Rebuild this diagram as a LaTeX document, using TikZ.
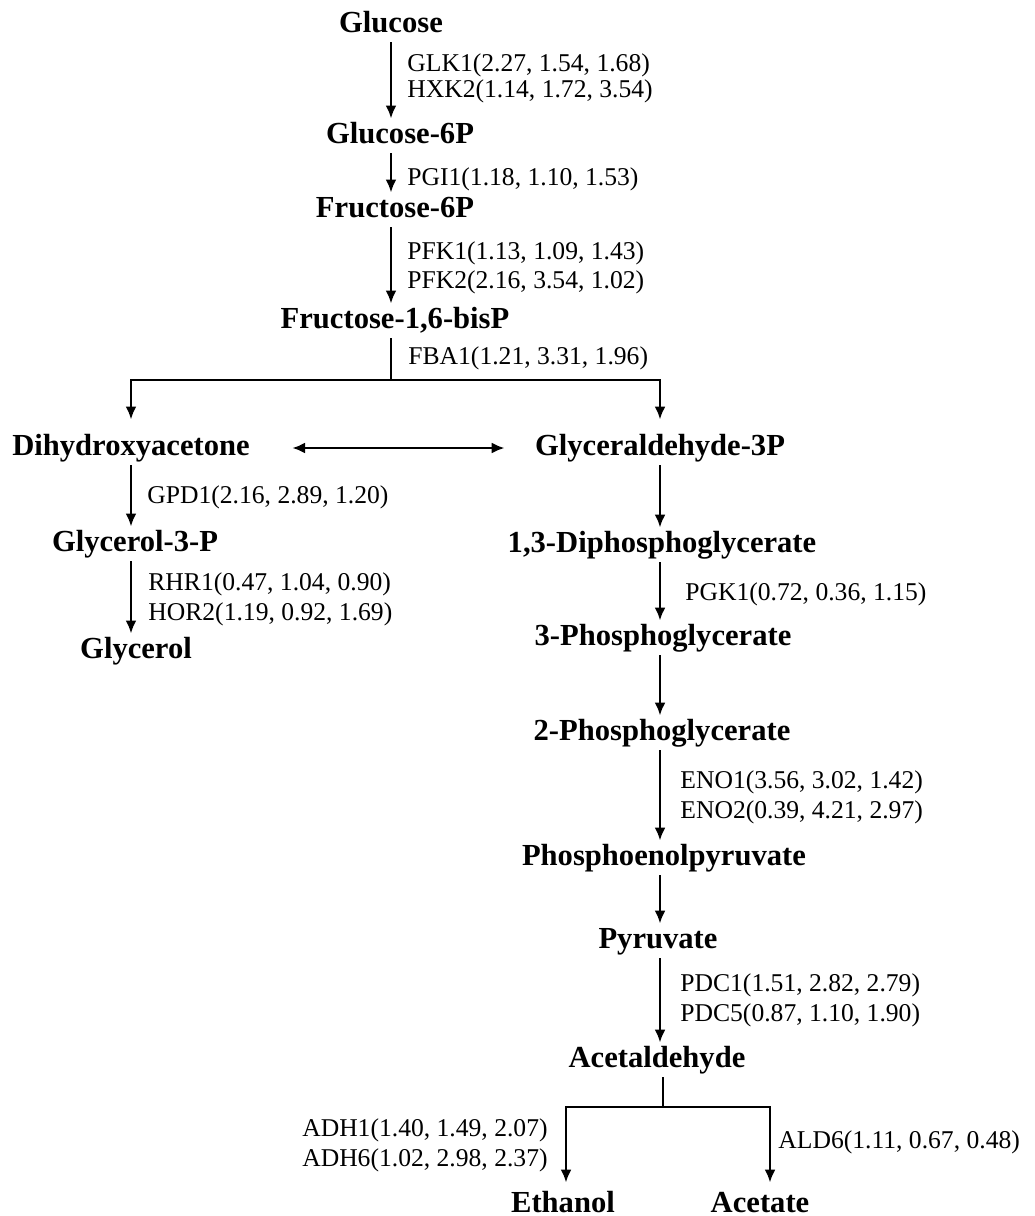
\documentclass[tikz,border=0pt]{standalone}
\usepackage{fontspec}
\setmainfont{Liberation Serif}
\usetikzlibrary{arrows.meta,calc,positioning}
\tikzset{
  met/.style={font=\fontsize{15.3}{18}\selectfont\bfseries,anchor=base,
    inner sep=2pt,text height=10pt,text depth=3pt},
  endmet/.style={met,text depth=0pt,inner ysep=1pt},
  enz/.style={font=\fontsize{12.8}{15}\selectfont,inner sep=0pt,
    anchor=base west},
  enzr/.style={enz,anchor=base east},
  arr/.style={-{Latex[length=6.5pt,width=5.5pt]},line width=1.4pt},
  darr/.style={{Latex[length=6.5pt,width=5.5pt]}-{Latex[length=6.5pt,width=5.5pt]},
    line width=1.4pt},
  ln/.style={line width=1.4pt}
}
\begin{document}
\begin{tikzpicture}[x=0.5pt,y=-0.5pt]
  \useasboundingbox (0,0) rectangle (1034,1216);
  % metabolites
  \node[met] (glc)   at (391,32)   {Glucose};
  \node[met] (g6p)   at (400,143)  {Glucose-6P};
  \node[met] (f6p)   at (395,217)  {Fructose-6P};
  \node[met] (f16bp) at (395,328)  {Fructose-1,6-bisP};
  \node[met] (dha)   at (131,455)  {Dihydroxyacetone};
  \node[met] (ga3p)  at (660,455)  {Glyceraldehyde-3P};
  \node[met] (g3p)   at (135,551)  {Glycerol-3-P};
  \node[met] (glyc)  at (136,658)  {Glycerol};
  \node[met] (dpg)   at (662,552)  {1,3-Diphosphoglycerate};
  \node[met] (pg3)   at (663,645)  {3-Phosphoglycerate};
  \node[met] (pg2)   at (662,740)  {2-Phosphoglycerate};
  \node[met] (pep)   at (664,865)  {Phosphoenolpyruvate};
  \node[met] (pyr)   at (658,948)  {Pyruvate};
  \node[met] (acald) at (657,1067) {Acetaldehyde};
  \node[endmet] (eth) at (563,1212) {Ethanol};
  \node[endmet] (ace) at (760,1212) {Acetate};
  % enzymes
  \node[enz] (glk1) at (407,71)   {GLK1(2.27, 1.54, 1.68)};
  \node[enz] (hxk2) at (407,97)   {HXK2(1.14, 1.72, 3.54)};
  \node[enz] (pgi1) at (407,185)  {PGI1(1.18, 1.10, 1.53)};
  \node[enz] (pfk1) at (407,259)  {PFK1(1.13, 1.09, 1.43)};
  \node[enz] (pfk2) at (407,288)  {PFK2(2.16, 3.54, 1.02)};
  \node[enz] (fba1) at (408,364)  {FBA1(1.21, 3.31, 1.96)};
  \node[enz] (gpd1) at (147,503)  {GPD1(2.16, 2.89, 1.20)};
  \node[enz] (rhr1) at (148,590)  {RHR1(0.47, 1.04, 0.90)};
  \node[enz] (hor2) at (148,620)  {HOR2(1.19, 0.92, 1.69)};
  \node[enz] (pgk1) at (685,600)  {PGK1(0.72, 0.36, 1.15)};
  \node[enz] (eno1) at (680,788)  {ENO1(3.56, 3.02, 1.42)};
  \node[enz] (eno2) at (680,818)  {ENO2(0.39, 4.21, 2.97)};
  \node[enz] (pdc1) at (680,991)  {PDC1(1.51, 2.82, 2.79)};
  \node[enz] (pdc5) at (680,1021) {PDC5(0.87, 1.10, 1.90)};
  \node[enzr] (adh1) at (548,1136) {ADH1(1.40, 1.49, 2.07)};
  \node[enzr] (adh6) at (548,1166) {ADH6(1.02, 2.98, 2.37)};
  \node[enz] (ald6) at (778,1148) {ALD6(1.11, 0.67, 0.48)};
  % upper glycolysis
  \foreach \a/\b in {glc/g6p, g6p/f6p, f6p/f16bp}
    \draw[arr] (\a.south -| glc) -- (\b.north -| glc);
  \coordinate (fork1) at (391,380);
  \draw[ln] (f16bp.south -| fork1) -- (fork1);
  \draw[arr] (fork1) -| ([yshift=5.5pt]dha.north);
  \draw[arr] (fork1) -| ([yshift=5.5pt]ga3p.north);
  \draw[darr,shorten <=19pt,shorten >=13pt] (dha.east) -- (ga3p.west);
  % glycerol branch
  \foreach \a/\b in {dha/g3p, g3p/glyc}
    \draw[arr] (\a.south -| dha) -- (\b.north -| dha);
  % lower glycolysis
  \foreach \a/\b in {ga3p/dpg, dpg/pg3, pg3/pg2, pg2/pep, pep/pyr, pyr/acald}
    \draw[arr] (\a.south -| ga3p) -- (\b.north -| ga3p);
  \coordinate (fork2) at (663,1107);
  \draw[ln] (acald.south -| fork2) -- (fork2);
  \draw[arr] (fork2) -| ([xshift=1.5pt,yshift=3.5pt]eth.north);
  \draw[arr] (fork2) -| ([xshift=5pt,yshift=3.5pt]ace.north);
\end{tikzpicture}
\end{document}
